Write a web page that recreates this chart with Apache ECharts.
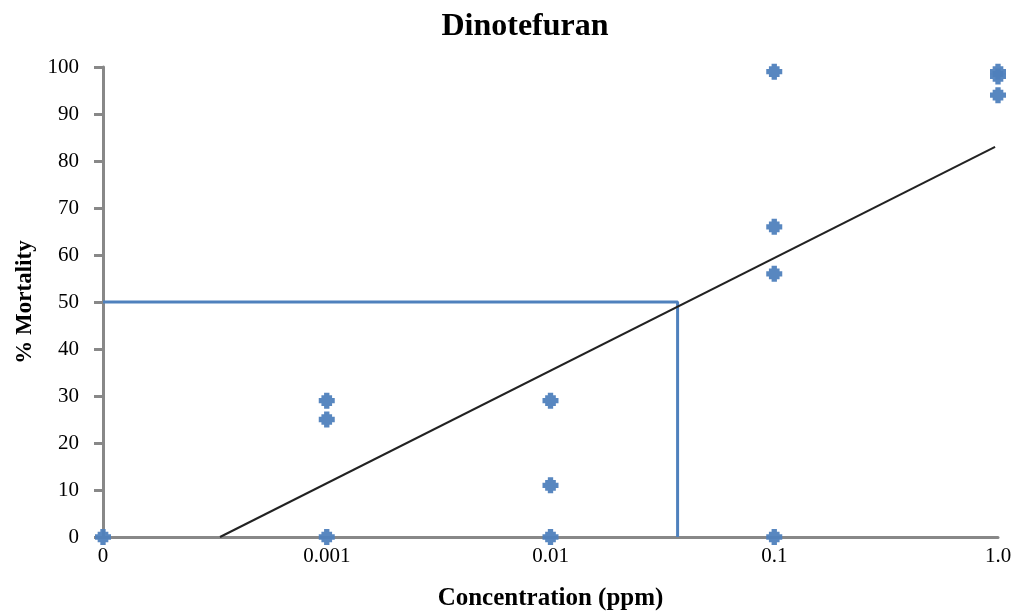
<!DOCTYPE html>
<html>
<head>
<meta charset="utf-8">
<script src="https://cdn.jsdelivr.net/npm/echarts@6/dist/echarts.min.js"></script>
<style>
  html, body { margin: 0; padding: 0; background: #fff; }
  #chart { width: 1013px; height: 613px; }
</style>
</head>
<body>
<div id="chart"></div>
<script>
// concentration tick labels, equally spaced (log-like positions 0..4)
var concLabels = ['0', '0.001', '0.01', '0.1', '1.0'];

// observed mortality, [position, % mortality]
var observed = [
  [0, 0],
  [1, 29], [1, 25], [1, 0],
  [2, 29], [2, 11], [2, 0],
  [3, 99], [3, 66], [3, 56], [3, 0],
  [4, 99], [4, 98], [4, 94]
];

// fitted trend line end points
var trend = [[0.523, 0], [3.987, 83]];

// LC50 guide (50 % mortality)
var lc50 = [[0, 50], [2.568, 50], [2.568, 0]];

var font = 'Liberation Serif, Times New Roman, serif';
var chart = echarts.init(document.getElementById('chart'));
chart.setOption({
  animation: false,
  title: {
    text: 'Dinotefuran',
    left: 520,
    top: 6,
    textAlign: 'center',
    textStyle: { fontFamily: font, fontSize: 32, fontWeight: 'bold', color: '#000' }
  },
  grid: { left: 103, right: 15, top: 67, bottom: 76, outerBoundsMode: 'none' },
  xAxis: {
    type: 'value',
    min: 0,
    max: 4,
    interval: 1,
    name: 'Concentration (ppm)',
    nameLocation: 'middle',
    nameGap: 49,
    nameTextStyle: { fontFamily: font, fontSize: 25, fontWeight: 'bold', color: '#000' },
    axisLine: { lineStyle: { color: '#888', width: 3 } },
    axisTick: { show: false },
    splitLine: { show: false },
    axisLabel: {
      fontFamily: font, fontSize: 21, color: '#000', margin: 9,
      formatter: function (v) { return concLabels[v]; }
    }
  },
  yAxis: {
    type: 'value',
    min: 0,
    max: 100,
    interval: 10,
    name: '% Mortality',
    nameLocation: 'middle',
    nameGap: 63,
    nameTextStyle: { fontFamily: font, fontSize: 23, fontWeight: 'bold', color: '#000' },
    axisLine: { show: true, lineStyle: { color: '#888', width: 3 } },
    axisTick: { show: true, length: 9, lineStyle: { color: '#888', width: 3 } },
    splitLine: { show: false },
    axisLabel: { fontFamily: font, fontSize: 21, color: '#000', margin: 24 }
  },
  series: [
    {
      type: 'line',
      data: lc50,
      symbol: 'none',
      lineStyle: { color: '#4f81bd', width: 3 },
      z: 1
    },
    {
      type: 'line',
      data: trend,
      symbol: 'none',
      lineStyle: { color: '#222', width: 2 },
      z: 2
    },
    {
      type: 'scatter',
      data: observed,
      symbol: 'path://M4,0 L8,0 L8,2 L10,2 L10,4 L12,4 L12,8 L10,8 L10,10 L8,10 L8,12 L4,12 L4,10 L2,10 L2,8 L0,8 L0,4 L2,4 L2,2 L4,2 Z',
      symbolSize: 16,
      itemStyle: { color: '#4f81bd', opacity: 0.95 },
      z: 3
    }
  ]
});
</script>
</body>
</html>
